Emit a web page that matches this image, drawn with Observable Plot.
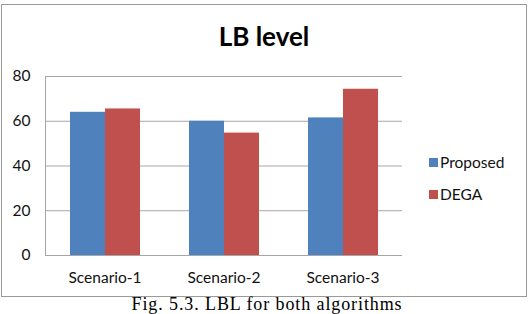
<!DOCTYPE html>
<html>
<head>
<meta charset="utf-8">
<script src="https://cdn.jsdelivr.net/npm/d3@7"></script>
<script src="https://cdn.jsdelivr.net/npm/@observablehq/plot@0.6"></script>
<style>
  html, body { margin: 0; padding: 0; background: #fff; }
  #wrap { position: relative; width: 532px; height: 314px; overflow: hidden; background: #fff; }
  #box { position: absolute; left: 1px; top: 4px; width: 524px; height: 291px; border: 1px solid #9a9a9a; }
  #chart { position: absolute; left: 0; top: 0; }
  #title { position: absolute; left: 0; top: 23px; width: 528px; text-align: center;
           font: bold 26px/26px Lato, "Open Sans", sans-serif; color: #000; }
  #legend { position: absolute; left: 429px; top: 153px; font: 15.5px/19px Lato, sans-serif; color: #111; }
  #legend div { height: 19px; margin-bottom: 13px; display: flex; align-items: center; }
  #legend span.sw { display: inline-block; width: 9px; height: 9px; margin-right: 2px; }
  #caption { position: absolute; left: 0; top: 295px; width: 534px; text-align: center; letter-spacing: 0.9px;
             font: 18px/18px "Liberation Serif", "DejaVu Serif", serif; color: #000; white-space: nowrap; }
</style>
</head>
<body>
<div id="wrap">
  <div id="box"></div>
  <div id="chart"></div>
  <div id="title">LB level</div>
  <div id="legend"></div>
  <div id="caption">Fig. 5.3. LBL for both algorithms</div>
</div>
<script>
// Load-balancing level per scenario for the two algorithms
const scenarios = ["Scenario-1", "Scenario-2", "Scenario-3"];
const series = ["Proposed", "DEGA"];
const proposed = [64, 60, 61.5];
const dega = [65.5, 54.7, 74.3];
const yTicks = [0, 20, 40, 60, 80];
const colors = ["#4f81bd", "#c0504d"];

const rows = scenarios.flatMap((s, i) => [
  {scenario: s, series: "Proposed", value: proposed[i]},
  {scenario: s, series: "DEGA", value: dega[i]}
]);

const chart = Plot.plot({
  width: 532,
  height: 300,
  marginLeft: 44,
  marginRight: 130,
  marginTop: 76,
  marginBottom: 45,
  style: {fontFamily: "Lato, 'Open Sans', sans-serif", fontSize: "15.5px", color: "#111", background: "transparent"},
  fx: {domain: scenarios, padding: 0, label: null, tickSize: 0, tickPadding: 16},
  x: {domain: series, axis: null, paddingInner: 0, paddingOuter: 0.7},
  y: {domain: [0, 80], label: null, ticks: yTicks, tickSize: 0, tickPadding: 15},
  color: {domain: series, range: colors},
  marks: [
    Plot.ruleY(yTicks, {stroke: "#a6a6a6", strokeWidth: 1}),
    Plot.frame({anchor: "left", stroke: "#a6a6a6", facet: "super"}),
    Plot.barY(rows, {fx: "scenario", x: "series", y: "value", fill: "series"})
  ]
});
document.getElementById("chart").appendChild(chart);

const legend = document.getElementById("legend");
series.forEach((s, i) => {
  const row = document.createElement("div");
  const sw = document.createElement("span");
  sw.className = "sw";
  sw.style.background = colors[i];
  row.appendChild(sw);
  row.appendChild(document.createTextNode(s));
  legend.appendChild(row);
});
</script>
</body>
</html>
